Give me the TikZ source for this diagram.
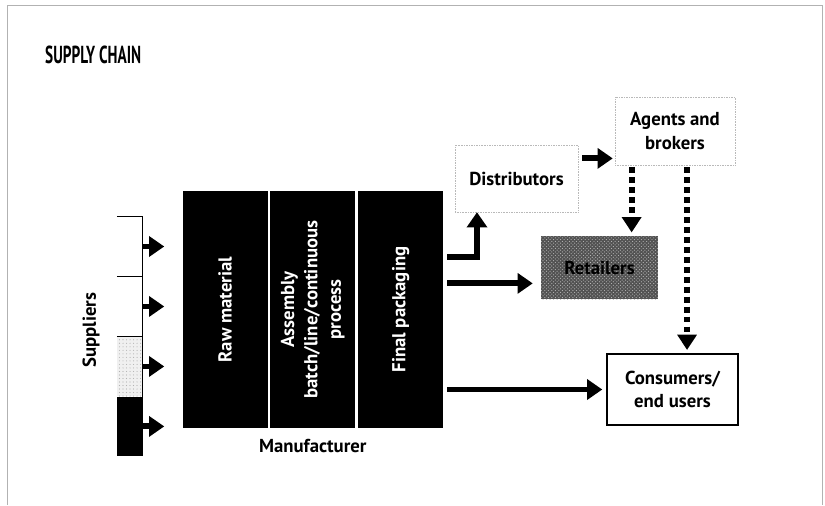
\documentclass[tikz,border=0pt]{standalone}
\usepackage{fontspec}
\setmainfont{PT Sans}
\usepackage{graphicx}
\usetikzlibrary{arrows.meta, positioning, calc, patterns}
\tikzset{
	mfgblk/.style ={rectangle, fill=black, text=white, minimum width=2.55cm, minimum height=7.11cm, inner sep=0pt},
	supblk/.style ={rectangle, minimum width=0.75cm, minimum height=1.785cm, inner sep=0pt},
	dotbox/.style ={rectangle, draw=gray!55, densely dotted, line width=0.4pt, align=center},
	bigarr/.style ={-{Triangle[length=13pt, width=17pt]}, line width=5pt},
	dotarr/.style ={-{Triangle[length=13pt, width=16pt]}, line width=5pt, dash pattern=on 5pt off 3.5pt},
	brk/.style    ={line width=0.8pt},
}

\begin{document}
\begin{tikzpicture}[x=0.03cm, y=-0.03cm, font=\fontsize{16}{20}\selectfont\bfseries]
	\useasboundingbox (0,0) rectangle (825,505);
	\draw[gray!60, line width=0.5pt] (7,505) -- (7,5) -- (822,5) -- (822,505);
	\node[anchor=base west, inner sep=0pt] (title) at (45,63) {\scalebox{0.62}[1]{\fontsize{21}{24}\selectfont SUPPLY CHAIN}};
	% suppliers
	\node[supblk] (sup1) at (129.5,246.5) {};
	\node[supblk, below=0cm of sup1] (sup2) {};
	\node[supblk, below=0cm of sup2, fill=gray!12, postaction={pattern=dots, pattern color=gray!60}] (sup3) {};
	\node[supblk, below=0cm of sup3, fill=black] (sup4) {};
	\draw[brk] (sup1.north west) -- (sup1.north east) -- (sup4.south east);
	\draw[brk] (sup2.north west) -- (sup2.north east);
	\draw[brk] (sup3.north west) -- (sup3.north east);
	\node[rotate=90] (suplbl) at (91,330) {Suppliers};
	% manufacturer
	\node[mfgblk] (raw) at (225,309.5) {\rotatebox{90}{Raw material}};
	\node[mfgblk, right=0.07cm of raw] (asm) {\rotatebox{90}{\begin{tabular}{@{}c@{}}Assembly\\batch/line/continuous\\process\end{tabular}}};
	\node[mfgblk, right=0.07cm of asm] (pack) {\rotatebox{90}{Final packaging}};
	\node[below=0.22cm of asm] (mfglbl) {Manufacturer};
	% channels
	\node[dotbox, minimum width=3.69cm, minimum height=2.01cm] (dist) at (516.5,178.5) {Distributors};
	\node[dotbox, minimum width=3.6cm, minimum height=2.04cm] (agt) at (675,131) {Agents and\\brokers};
	\node[rectangle, fill=black!68, postaction={pattern=crosshatch dots, pattern color=gray!55}, minimum width=3.51cm, minimum height=1.89cm] (ret) at (599.5,267.5) {Retailers};
	\node[rectangle, draw=black, line width=1.2pt, align=center, minimum width=3.93cm, minimum height=2.13cm] (cons) at (672.5,389.5) {Consumers/\\end users};
	\coordinate (pk1) at ($(pack.north east)!0.28!(pack.south east)$);
	\coordinate (pk2) at ($(pack.north east)!0.39!(pack.south east)$);
	\coordinate (din) at ($(dist.south west)!0.18!(dist.south east)$);
	\coordinate (ain) at ($(agt.south west)!0.1!(agt.north west)$);
	\coordinate (ad1) at ($(agt.south west)!0.14!(agt.south east)$);
	\coordinate (ad2) at ($(agt.south west)!0.6!(agt.south east)$);
	\foreach \s in {sup1,sup2,sup3,sup4}
		\draw[bigarr, shorten >=0.54cm] (\s.east) -- (\s.east -| raw.west);
	\draw[bigarr, shorten <=0.12cm] (pk1) -| (din);
	\draw[bigarr, shorten <=0.12cm, shorten >=0.24cm] (pk2) -- (pk2 -| ret.west);
	\draw[bigarr, shorten <=0.12cm, shorten >=0.12cm] (pack.east |- cons.west) -- (cons.west);
	\draw[bigarr, shorten <=0.12cm, shorten >=0.06cm] (ain -| dist.east) -- (ain);
	\draw[dotarr, shorten <=0.06cm, shorten >=0.1cm] (ad1) -- (ad1 |- ret.north);
	\draw[dotarr, shorten <=0.06cm, shorten >=0.1cm] (ad2) -- (ad2 |- cons.north);
\end{tikzpicture}
\end{document}
